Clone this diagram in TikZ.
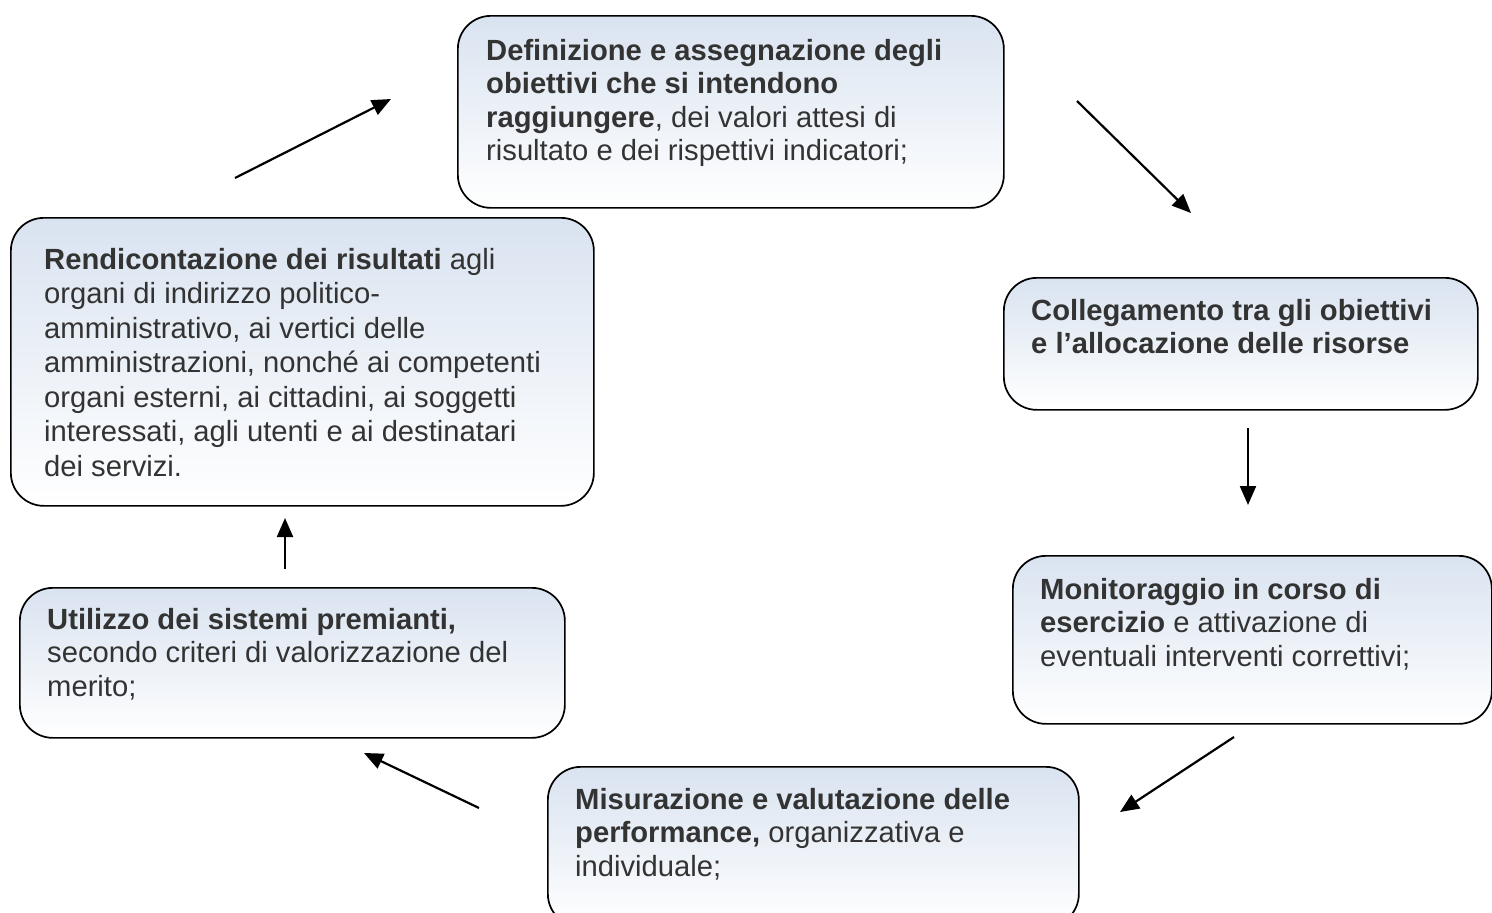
\documentclass[tikz,border=0pt]{standalone}
\usepackage{fontspec}
\setmainfont{Liberation Sans}
\usetikzlibrary{arrows.meta, positioning}

\definecolor{boxtop}{RGB}{217,227,240}
\definecolor{ink}{RGB}{51,51,51}

\begin{document}
\begin{tikzpicture}[
    x=1pt, y=-1pt,
    stage/.style = {
      draw, line width=1.7pt, rounded corners=33pt,
      top color=boxtop, bottom color=white,
      inner sep=0pt, anchor=north west
    },
    stagetext/.style = {
      inner sep=0pt, align=left, text=ink,
      font=\fontsize{29.2}{33.5}\selectfont
    },
    flow/.style = {-{Triangle[length=19pt, width=16pt]}, line width=2.2pt}
  ]

    \useasboundingbox (0,0) rectangle (1492,913);
    \clip (0,0) rectangle (1492,913);

    % the six stages of the cycle
    \node[stage, minimum width=546, minimum height=192] (defin) at (457,15) {};
    \node[stage, minimum width=474, minimum height=132] (colleg) at (1003,277) {};
    \node[stage, minimum width=479, minimum height=168] (monit) at (1012,555) {};
    \node[stage, minimum width=531, minimum height=160] (misur) at (547,766) {};
    \node[stage, minimum width=545, minimum height=150] (utiliz) at (19,587) {};
    \node[stage, minimum width=583, minimum height=288] (rendic) at (10,217) {};

    \node[stagetext, below right=24pt and 29pt of defin.north west] (defintxt)
      {\textbf{Definizione e assegnazione degli}\\
       \textbf{obiettivi che si intendono}\\
       \textbf{raggiungere}, dei valori attesi di\\
       risultato e dei rispettivi indicatori;};

    \node[stagetext, below right=22pt and 28pt of colleg.north west] (collegtxt)
      {\textbf{Collegamento tra gli obiettivi}\\
       \textbf{e l’allocazione delle risorse}};

    \node[stagetext, below right=23pt and 28pt of monit.north west] (monittxt)
      {\textbf{Monitoraggio in corso di}\\
       \textbf{esercizio} e attivazione di\\
       eventuali interventi correttivi;};

    \node[stagetext, below right=22pt and 28pt of misur.north west] (misurtxt)
      {\textbf{Misurazione e valutazione delle}\\
       \textbf{performance,} organizzativa e\\
       individuale;};

    \node[stagetext, below right=21pt and 28pt of utiliz.north west] (utiliztxt)
      {\textbf{Utilizzo dei sistemi premianti,}\\
       secondo criteri di valorizzazione del\\
       merito;};

    \node[stagetext, below right=31pt and 34pt of rendic.north west,
          font=\fontsize{29.2}{34.5}\selectfont] (rendictxt)
      {\textbf{Rendicontazione dei risultati} agli\\
       organi di indirizzo politico-\\
       amministrativo, ai vertici delle\\
       amministrazioni, nonché ai competenti\\
       organi esterni, ai cittadini, ai soggetti\\
       interessati, agli utenti e ai destinatari\\
       dei servizi.};

    % arrow ends
    \coordinate (a1s) at (235,178);  \coordinate (a1e) at (391,99);
    \coordinate (a2s) at (1077,101); \coordinate (a2e) at (1191,213);
    \coordinate (a3s) at (1248,428); \coordinate (a3e) at (1248,505);
    \coordinate (a4s) at (1234,737); \coordinate (a4e) at (1120,812);
    \coordinate (a5s) at (479,808);  \coordinate (a5e) at (364,753);
    \coordinate (a6s) at (285,569);  \coordinate (a6e) at (285,518);

    \foreach \i in {1,...,6}
      \draw[flow] (a\i s) -- (a\i e);

  \end{tikzpicture}
\end{document}
